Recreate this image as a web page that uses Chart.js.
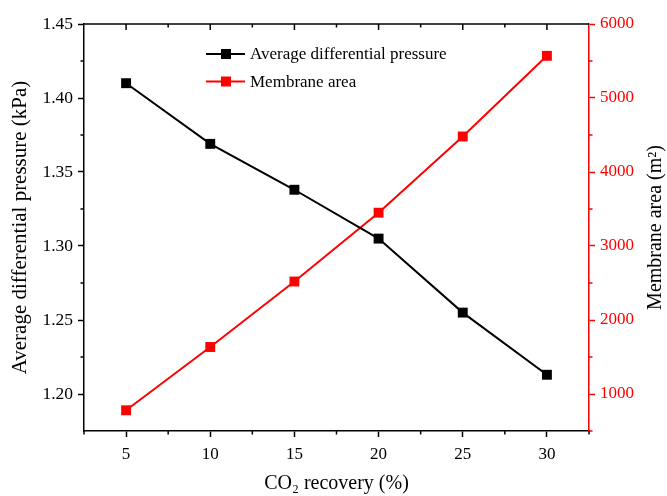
<!DOCTYPE html>
<html>
<head>
<meta charset="utf-8">
<script src="https://cdn.jsdelivr.net/npm/chart.js@4.4.0/dist/chart.umd.min.js"></script>
<style>
  html, body { margin: 0; padding: 0; background: #fff; }
  #wrap { width: 667px; height: 496px; }
</style>
</head>
<body>
<div id="wrap"><canvas id="chart" width="667" height="496"></canvas></div>
<script>
'use strict';

// values
const recovery = [5, 10, 15, 20, 25, 30];
const pressure = [1.410, 1.369, 1.338, 1.305, 1.255, 1.213];
const area = [780, 1635, 2520, 3450, 4480, 5570];

const xTicks = [5, 10, 15, 20, 25, 30];
const pressureTicks = [1.20, 1.25, 1.30, 1.35, 1.40, 1.45];
const areaTicks = [1000, 2000, 3000, 4000, 5000, 6000];

const SERIF = '"Liberation Serif", "Times New Roman", serif';
const RED = '#ff0000';

function toPoints(xs, ys) {
  return xs.map((x, i) => ({ x: x, y: ys[i] }));
}

function midpoints(list) {
  const out = [];
  for (let i = 0; i < list.length - 1; i++) out.push((list[i] + list[i + 1]) / 2);
  // one more half step at each end
  const step = list[1] - list[0];
  out.unshift(list[0] - step / 2);
  out.push(list[list.length - 1] + step / 2);
  return out;
}

// minor ticks, top frame, right title and legend, drawn through the chart's own scales
const framePlugin = {
  id: 'frame',
  afterDraw(chart) {
    const ctx = chart.ctx;
    const area = chart.chartArea;
    const x = chart.scales.x, y = chart.scales.y, y1 = chart.scales.y1;
    ctx.save();
    ctx.lineWidth = 1.5;

    // top border with inward ticks
    ctx.strokeStyle = '#000';
    ctx.beginPath();
    ctx.moveTo(area.left, area.top);
    ctx.lineTo(area.right, area.top);
    xTicks.forEach(v => {
      const px = x.getPixelForValue(v);
      ctx.moveTo(px, area.top);
      ctx.lineTo(px, area.top + 6);
    });
    midpoints(xTicks).forEach(v => {
      if (v <= x.min || v >= x.max) return;
      const px = x.getPixelForValue(v);
      ctx.moveTo(px, area.top);
      ctx.lineTo(px, area.top + 3.5);
    });
    ctx.stroke();

    // bottom minor ticks
    ctx.beginPath();
    midpoints(xTicks).forEach(v => {
      if (v < x.min || v > x.max) return;
      const px = x.getPixelForValue(v);
      ctx.moveTo(px, area.bottom);
      ctx.lineTo(px, area.bottom + 3.5);
    });
    // left minor ticks
    midpoints(pressureTicks).forEach(v => {
      if (v < y.min || v > y.max) return;
      const py = y.getPixelForValue(v);
      ctx.moveTo(area.left, py);
      ctx.lineTo(area.left - 3.5, py);
    });
    ctx.stroke();

    // right minor ticks
    ctx.strokeStyle = RED;
    ctx.beginPath();
    midpoints(areaTicks).forEach(v => {
      if (v < y1.min || v > y1.max) return;
      const py = y1.getPixelForValue(v);
      ctx.moveTo(area.right, py);
      ctx.lineTo(area.right + 3.5, py);
    });
    ctx.stroke();

    // right axis title reads bottom-to-top, like the left one
    ctx.save();
    ctx.translate(656, (area.top + area.bottom) / 2);
    ctx.rotate(-Math.PI / 2);
    ctx.font = '20px ' + SERIF;
    ctx.fillStyle = '#000';
    ctx.textAlign = 'center';
    ctx.textBaseline = 'middle';
    ctx.fillText('Membrane area (m²)', 0, 0);
    ctx.restore();

    // legend
    const rows = [{ y: 54 }, { y: 81.5 }];
    ctx.font = '17px ' + SERIF;
    ctx.textBaseline = 'middle';
    ctx.textAlign = 'left';
    chart.data.datasets.forEach((ds, i) => {
      const ly = rows[i].y;
      ctx.strokeStyle = ds.borderColor;
      ctx.lineWidth = 2;
      ctx.beginPath();
      ctx.moveTo(206, ly);
      ctx.lineTo(245, ly);
      ctx.stroke();
      ctx.fillStyle = ds.backgroundColor;
      ctx.fillRect(221, ly - 5, 10, 10);
      ctx.fillStyle = '#000';
      ctx.fillText(ds.label, 250, ly + 1);
    });
    ctx.restore();
  }
};

const ctx = document.getElementById('chart').getContext('2d');

new Chart(ctx, {
  type: 'line',
  data: {
    datasets: [{
      label: 'Average differential pressure',
      data: toPoints(recovery, pressure),
      yAxisID: 'y',
      borderColor: '#000',
      backgroundColor: '#000',
      borderWidth: 2,
      pointStyle: 'rect',
      pointRadius: 7,
      pointBorderWidth: 0,
      tension: 0,
    }, {
      label: 'Membrane area',
      data: toPoints(recovery, area),
      yAxisID: 'y1',
      borderColor: RED,
      backgroundColor: RED,
      borderWidth: 2,
      pointStyle: 'rect',
      pointRadius: 7,
      pointBorderWidth: 0,
      tension: 0,
    }]
  },
  options: {
    responsive: false,
    animation: false,
    layout: {
      padding: { top: 24, left: 0, right: 0, bottom: 0 }
    },
    plugins: {
      legend: { display: false },
      tooltip: { enabled: false },
    },
    scales: {
      x: {
        type: 'linear',
        position: 'bottom',
        min: 2.5,
        max: 32.5,
        afterBuildTicks: (s) => { s.ticks = xTicks.map(v => ({ value: v })); },
        afterFit: (s) => { s.height = 65; },
        ticks: {
          color: '#000',
          font: { family: SERIF, size: 17 },
          maxRotation: 0,
          padding: 7,
        },
        grid: {
          drawOnChartArea: false,
          tickLength: 6,
          tickColor: '#000',
          tickWidth: 1.5,
        },
        border: { color: '#000', width: 1.5 },
        title: {
          display: true,
          text: 'CO₂ recovery (%)',
          color: '#000',
          font: { family: SERIF, size: 20 },
          padding: { top: 0, bottom: 0 },
        },
      },
      y: {
        position: 'left',
        min: 1.175,
        max: 1.45,
        afterBuildTicks: (s) => { s.ticks = pressureTicks.map(v => ({ value: v })); },
        afterFit: (s) => { s.width = 84; },
        ticks: {
          color: '#000',
          font: { family: SERIF, size: 17.5 },
          padding: 5,
          callback: (v) => Number(v).toFixed(2),
        },
        grid: {
          drawOnChartArea: false,
          tickLength: 6,
          tickColor: '#000',
          tickWidth: 1.5,
        },
        border: { color: '#000', width: 1.5 },
        title: {
          display: true,
          text: 'Average differential pressure (kPa)',
          color: '#000',
          font: { family: SERIF, size: 21 },
          padding: { top: 8, bottom: 0 },
        },
      },
      y1: {
        position: 'right',
        min: 500,
        max: 6000,
        afterBuildTicks: (s) => { s.ticks = areaTicks.map(v => ({ value: v })); },
        afterFit: (s) => { s.width = 78; },
        ticks: {
          color: RED,
          font: { family: SERIF, size: 17 },
          padding: 5,
          callback: (v) => String(v),
        },
        grid: {
          drawOnChartArea: false,
          tickLength: 6,
          tickColor: RED,
          tickWidth: 1.5,
        },
        border: { color: RED, width: 1.5 },
        title: { display: false },
      },
    }
  },
  plugins: [framePlugin]
});
</script>
</body>
</html>
